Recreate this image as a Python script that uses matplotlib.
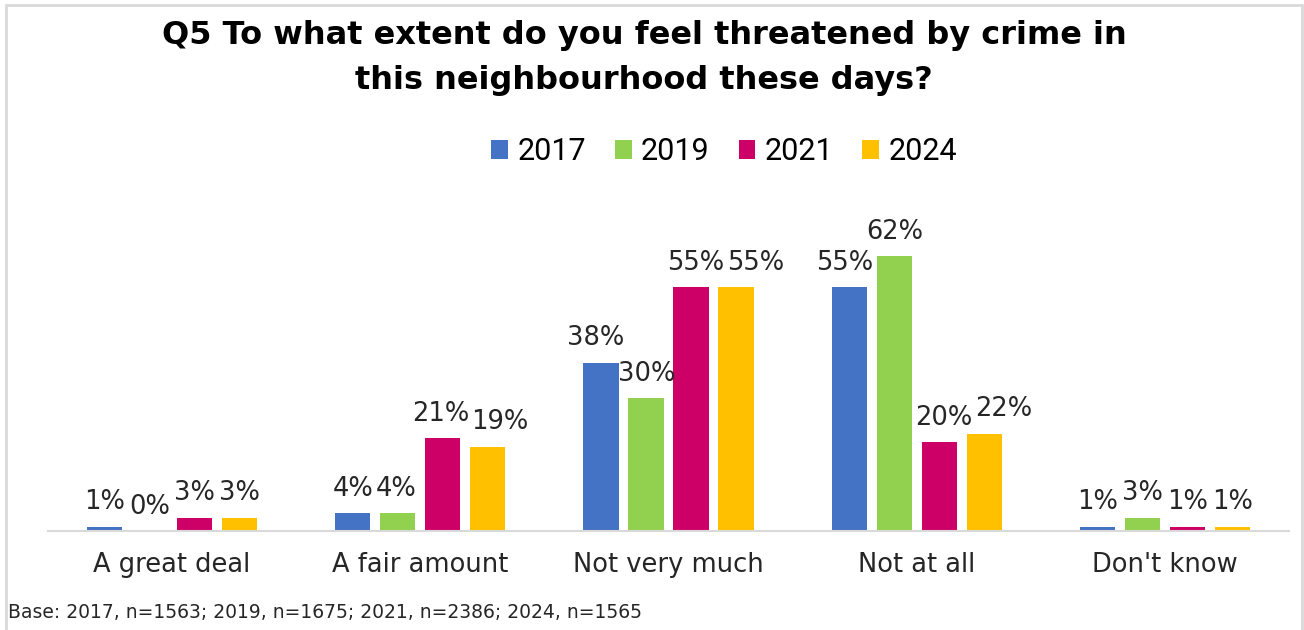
import matplotlib
matplotlib.use("Agg")
import matplotlib.pyplot as plt
from matplotlib.patches import Patch, Rectangle
import numpy as np

# Survey responses (% of respondents) by year
categories = ["A great deal", "A fair amount", "Not very much", "Not at all", "Don't know"]
years = ["2017", "2019", "2021", "2024"]
pct_2017 = [1, 4, 38, 55, 1]
pct_2019 = [0, 4, 30, 62, 3]
pct_2021 = [3, 21, 55, 20, 1]
pct_2024 = [3, 19, 55, 22, 1]
series = [pct_2017, pct_2019, pct_2021, pct_2024]
colors = ["#4472C4", "#92D050", "#CC0066", "#FFC000"]

title = "Q5 To what extent do you feel threatened by crime in\nthis neighbourhood these days?"
base_note = "Base: 2017, n=1563; 2019, n=1675; 2021, n=2386; 2024, n=1565"

W, H = 1304, 630
fig = plt.figure(figsize=(W / 100, H / 100), dpi=100)
fig.patch.set_facecolor("white")

# light grey frame around the chart
fig.add_artist(Rectangle((6 / W, -0.01), 1296 / W, (H - 5) / H + 0.01,
                         transform=fig.transFigure, fill=False,
                         edgecolor="#D9D9D9", linewidth=2))

px_per_pct = 4.43
ymax = 70
ax_left, ax_right, ax_base = 48, 1289, 531
ax_h = ymax * px_per_pct
ax = fig.add_axes([ax_left / W, (H - ax_base) / H, (ax_right - ax_left) / W, ax_h / H])

x = np.arange(len(categories))
step = 0.1815
width = 0.142
labels = [[None] * len(series) for _ in categories]
for i, (vals, col) in enumerate(zip(series, colors)):
    pos = x + (i - 1.5) * step
    bars = ax.bar(pos, vals, width=width, color=col, zorder=2)
    for k, (b, v) in enumerate(zip(bars, vals)):
        labels[k][i] = ax.annotate(f"{v}%", (b.get_x() + b.get_width() / 2, v),
                                   xytext=(0, 12.5), textcoords="offset points",
                                   ha="center", va="baseline", fontsize=18.5,
                                   family="DejaVu Sans", color="#262626")

ax.set_xlim(-0.5, len(categories) - 0.5)
ax.set_ylim(0, ymax)
ax.set_yticks([])
for s in ["top", "left", "right"]:
    ax.spines[s].set_visible(False)
ax.spines["bottom"].set_color("#D9D9D9")
ax.spines["bottom"].set_linewidth(1.5)
ax.set_xticks(x)
ax.set_xticklabels(categories, fontsize=18.5, family="DejaVu Sans", color="#262626")
ax.tick_params(axis="x", length=0, pad=15)
ax.set_facecolor("none")

fig.text(644 / W, 1 - 58 / H, title, ha="center", va="center",
         fontsize=23, fontweight="bold", family="DejaVu Sans", color="black",
         linespacing=1.58)

handles = [Patch(facecolor=c, edgecolor="none") for c in colors]
fig.legend(handles, years, loc="center", bbox_to_anchor=(724 / W, 1 - 152 / H),
           ncol=4, frameon=False,
           prop={"family": "Roboto", "size": 22},
           handlelength=0.55, handleheight=0.55, handletextpad=0.3,
           columnspacing=0.95)

fig.text(8 / W, 1 - 612 / H, base_note, ha="left", va="center",
         fontsize=13.5, family="DejaVu Sans", color="#262626")

# spread neighbouring value labels apart so they do not collide
fig.canvas.draw()
renderer = fig.canvas.get_renderer()
for group in labels:
    for j in range(1, len(group)):
        prev_ext = group[j - 1].get_window_extent(renderer)
        cur_ext = group[j].get_window_extent(renderer)
        overlap = prev_ext.x1 + 2 - cur_ext.x0
        if overlap > 0:
            pdx, pdy = group[j - 1].xyann
            cdx, cdy = group[j].xyann
            pts = overlap * 72 / fig.dpi
            group[j - 1].xyann = (pdx - pts * 0.35, pdy)
            group[j].xyann = (cdx + pts * 0.65, cdy)

fig.savefig("out.png", dpi=100, facecolor="white")
